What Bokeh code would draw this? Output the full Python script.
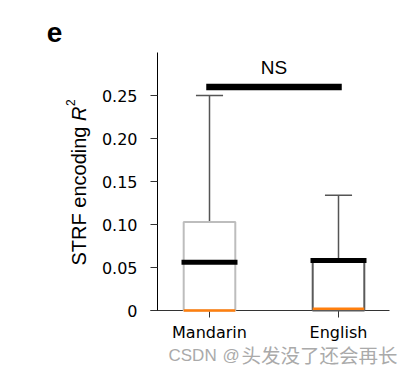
import math
from bokeh.plotting import figure
from bokeh.models import Range1d, FixedTicker, Label
from bokeh.embed import file_html
from bokeh.resources import INLINE

# ---- data ----
languages = ["Mandarin", "English"]
xpos = [1, 2]
q1 = [0.0, 0.0]
q3 = [0.103, 0.058]
medians = [0.056, 0.058]
whisk_hi = [0.25, 0.134]
orange_vals = [0.0, 0.002]
box_edge_colors = ["#bdbdbd", "#5a5a5a"]
sig_y = 0.26
sig_text = "NS"
yticks = [0, 0.05, 0.10, 0.15, 0.20, 0.25]
ytick_labels = ["0", "0.05", "0.10", "0.15", "0.20", "0.25"]

TICK_FONT = "DejaVu Sans"
W, H = 406, 368

# helpers: canvas px -> data coords (frame covers whole canvas)
def dx(px):
    return 1 + (px - 209) / 129.0

def dy(py):
    return (310 - py) / 860.0

p = figure(width=W, height=H, output_backend="svg", toolbar_location=None,
           x_range=Range1d(dx(0), dx(W)), y_range=Range1d(dy(H), dy(0)),
           min_border_left=0, min_border_right=0, min_border_top=0,
           min_border_bottom=0)
p.outline_line_color = None
p.xgrid.grid_line_color = None
p.ygrid.grid_line_color = None
p.background_fill_color = "white"
p.border_fill_color = "white"

# axes (placed inside the frame)
p.yaxis.fixed_location = dx(157)
p.yaxis.bounds = (0, 0.3)
p.yaxis.ticker = FixedTicker(ticks=yticks)
p.yaxis.major_label_overrides = {t: l for t, l in zip(yticks, ytick_labels)}
p.yaxis.major_tick_out = 7
p.yaxis.major_tick_in = 0
p.yaxis.minor_tick_line_color = None
p.yaxis.axis_line_color = "black"
p.yaxis.major_tick_line_color = "#333333"
p.yaxis.major_label_text_font = TICK_FONT
p.yaxis.major_label_text_font_size = "16px"
p.yaxis.major_label_text_color = "black"
p.yaxis.major_label_standoff = 13

p.xaxis.fixed_location = 0
p.xaxis.bounds = (dx(150), dx(389))
p.xaxis.ticker = FixedTicker(ticks=xpos)
p.xaxis.major_label_overrides = {x: l for x, l in zip(xpos, languages)}
p.xaxis.major_tick_out = 7
p.xaxis.major_tick_in = 0
p.xaxis.minor_tick_line_color = None
p.xaxis.axis_line_color = "#333333"
p.xaxis.major_tick_line_color = "#333333"
p.xaxis.major_label_text_font = TICK_FONT
p.xaxis.major_label_text_font_size = "16px"
p.xaxis.major_label_text_color = "black"
p.xaxis.major_label_standoff = 5
p.xaxis.level = "underlay"

# whiskers
p.segment(x0=xpos, y0=q3, x1=xpos, y1=whisk_hi, line_color="#555555", line_width=1.5)
cap_w = 0.105
p.segment(x0=[x - cap_w for x in xpos], y0=whisk_hi, x1=[x + cap_w for x in xpos],
          y1=whisk_hi, line_color="#555555", line_width=1.5)

# boxes
bw = 0.2
p.quad(left=[x - bw for x in xpos], right=[x + bw for x in xpos], bottom=q1, top=q3,
       fill_color="white", line_color=box_edge_colors, line_width=2)

# orange lines
p.segment(x0=[x - bw for x in xpos], y0=orange_vals, x1=[x + bw for x in xpos],
          y1=orange_vals, line_color="#ff7f0e", line_width=2.5)

# medians
mw = 0.217
p.segment(x0=[x - mw for x in xpos], y0=medians, x1=[x + mw for x in xpos],
          y1=medians, line_color="black", line_width=5)

# significance bar
p.segment(x0=[xpos[0]], y0=[sig_y], x1=[xpos[1]], y1=[sig_y], line_color="black",
          line_width=6.5, line_cap="square")
p.add_layout(Label(x=1.5, y=0.2826, text=sig_text, text_align="center",
                   text_baseline="middle", text_font="Liberation Sans",
                   text_font_size="19px", text_color="black"))

# y-axis label pieces
LX = 78
p.add_layout(Label(x=dx(LX), y=dy(265), text="STRF encoding ", angle=math.pi / 2,
                   text_align="left", text_baseline="alphabetic",
                   text_font="Liberation Sans", text_font_size="20px", text_color="black"))
p.add_layout(Label(x=dx(LX), y=dy(265 - 144.5), text="R", angle=math.pi / 2,
                   text_align="left", text_baseline="alphabetic", text_font_style="italic",
                   text_font="Liberation Sans", text_font_size="20px", text_color="black"))
p.add_layout(Label(x=dx(LX - 8), y=dy(265 - 144.5 - 15), text="2", angle=math.pi / 2,
                   text_align="left", text_baseline="alphabetic",
                   text_font="Liberation Sans", text_font_size="12px", text_color="black"))

# panel letter
p.add_layout(Label(x=dx(54), y=dy(32), text="e", text_align="center",
                   text_baseline="middle", text_font="Liberation Sans",
                   text_font_style="bold", text_font_size="28px", text_color="black"))

# watermark
wm_color = "#aaaaaa"
p.add_layout(Label(x=dx(168), y=dy(355), text="CSDN", text_align="left",
                   text_baseline="middle", text_font="Liberation Sans",
                   text_font_size="17px", text_color=wm_color))
p.add_layout(Label(x=dx(222), y=dy(355), text="@", text_align="left",
                   text_baseline="middle", text_font="Liberation Sans",
                   text_font_size="17px", text_color=wm_color))
p.add_layout(Label(x=dx(397), y=dy(354), text="头发没了还会再长", text_align="right",
                   text_baseline="middle", text_font="Noto Sans CJK SC",
                   text_font_size="19.5px", text_color=wm_color))

open("out.html", "w").write(file_html(p, INLINE))
